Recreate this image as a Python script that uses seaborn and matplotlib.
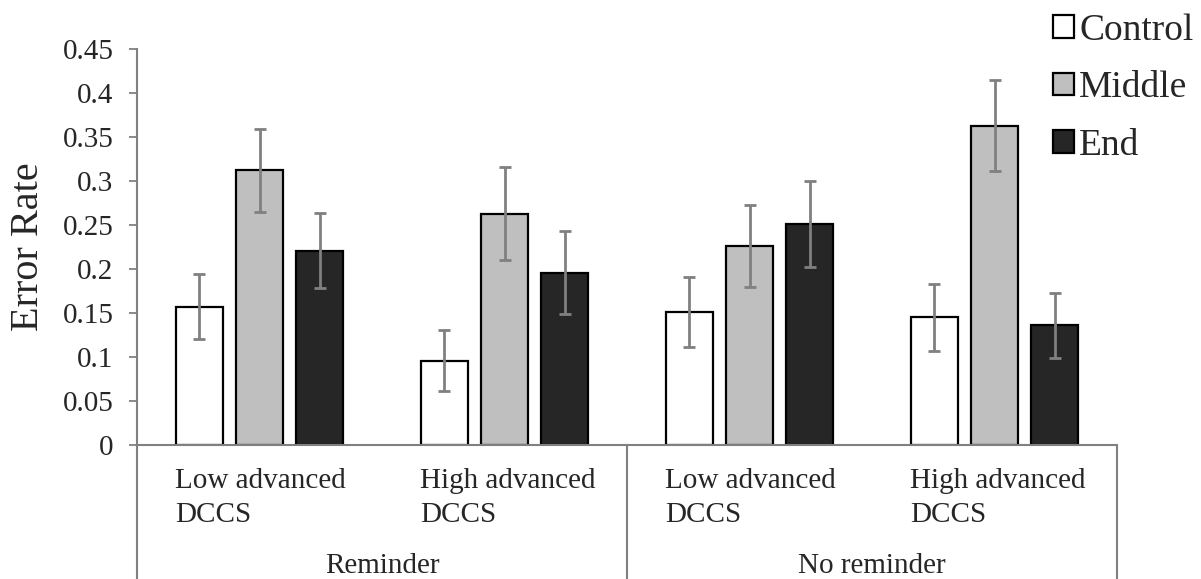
import numpy as np
import pandas as pd
import matplotlib
matplotlib.use("Agg")
import matplotlib.pyplot as plt
import seaborn as sns

# ---- data ----
groups = ["Reminder", "No reminder"]
levels = ["Low advanced\nDCCS", "High advanced\nDCCS"]
conditions = ["Control", "Middle", "End"]
control = [0.157, 0.096, 0.151, 0.145]
middle = [0.312, 0.263, 0.226, 0.363]
end = [0.221, 0.196, 0.251, 0.136]
control_err = [0.037, 0.035, 0.040, 0.038]
middle_err = [0.047, 0.053, 0.047, 0.052]
end_err = [0.043, 0.047, 0.049, 0.037]
yticks = [0, 0.05, 0.1, 0.15, 0.2, 0.25, 0.3, 0.35, 0.4, 0.45]
ytick_labels = ["0", "0.05", "0.1", "0.15", "0.2", "0.25", "0.3", "0.35", "0.4", "0.45"]

colors = {"Control": "#ffffff", "Middle": "#bfbfbf", "End": "#262626"}

cells = [f"{g}|{l}" for g in groups for l in levels]
rows = []
for cond, vals, errs in [("Control", control, control_err),
                         ("Middle", middle, middle_err),
                         ("End", end, end_err)]:
    for c, v, e in zip(cells, vals, errs):
        rows.append({"cell": c, "cond": cond, "value": v, "err": e})
df = pd.DataFrame(rows)

sns.set_theme(style="white")
plt.rcParams["font.family"] = ["Liberation Serif", "DejaVu Serif"]

fig = plt.figure(figsize=(12.01, 5.79), dpi=100)
ax = fig.add_axes([137/1201, 1-445/579, (1117-137)/1201, (445-49)/579])

sns.barplot(data=df, x="cell", y="value", hue="cond", order=cells,
            hue_order=conditions, palette=colors, width=0.735, gap=0.22,
            edgecolor="black", linewidth=1.6, errorbar=None, ax=ax,
            saturation=1)

# error bars placed on the bars drawn by seaborn
for cont, cond in zip(ax.containers, conditions):
    sub = df[df["cond"] == cond].set_index("cell").loc[cells]
    xs = [p.get_x() + p.get_width()/2 for p in cont.patches]
    ax.errorbar(xs, sub["value"].values, yerr=sub["err"].values, fmt="none",
                ecolor="#808080", elinewidth=2.0, capsize=4.5, capthick=2.0,
                zorder=5)

ax.set_ylim(0, 0.45)
ax.set_xlim(-0.5, len(cells) - 0.5)
ax.set_yticks(yticks)
ax.set_yticklabels(ytick_labels, fontsize=21)
ax.set_xticks([])
ax.set_xlabel("")
ax.set_ylabel("Error Rate", fontsize=29, labelpad=11)
ax.tick_params(axis="y", direction="out", length=6, width=1.3, color="#808080",
               left=True, pad=11)
for s in ["top", "right"]:
    ax.spines[s].set_visible(False)
for s in ["left", "bottom"]:
    ax.spines[s].set_color("#808080")
    ax.spines[s].set_linewidth(1.5)

# multi-level category axis
trans = ax.get_xaxis_transform()
for i, c in enumerate(cells):
    lvl = c.split("|")[1]
    ax.text(i - 0.345, -0.058, lvl, transform=trans, ha="left", va="top",
            fontsize=21, linespacing=1.4)
for gi, g in enumerate(groups):
    ax.text(gi*2 + 0.5, -0.324, g, transform=trans, ha="center", va="baseline",
            fontsize=21)
for xv in [-0.5, 1.5, 3.5]:
    ax.plot([xv, xv], [0, -0.4], transform=trans, color="#808080",
            lw=1.5, clip_on=False)

# legend
handles, labels = ax.get_legend_handles_labels()
leg = ax.legend(handles, labels, loc="upper left",
                bbox_to_anchor=(1038/1201, 1 + 2/579), bbox_transform=fig.transFigure,
                frameon=False, fontsize=27, handlelength=0.55, handleheight=0.55,
                handletextpad=0.15, labelspacing=0.62, borderaxespad=0)
for h in leg.legend_handles:
    h.set_edgecolor("black")
    h.set_linewidth(1.6)

fig.savefig("out.png", dpi=100)
